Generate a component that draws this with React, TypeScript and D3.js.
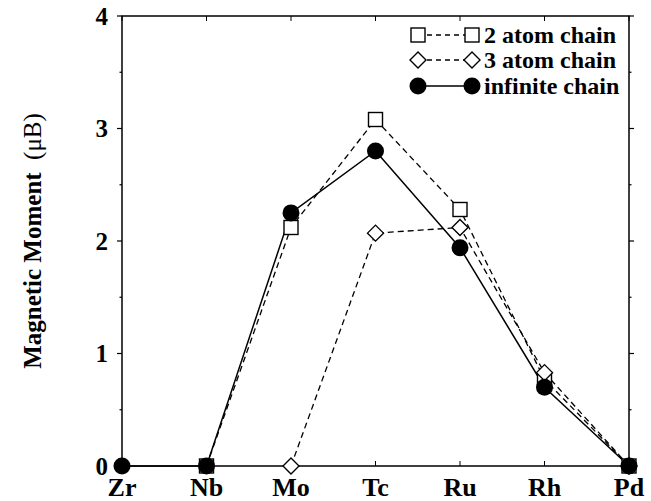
import React from 'react';
import * as d3 from 'd3';

const elements = ['Zr', 'Nb', 'Mo', 'Tc', 'Ru', 'Rh', 'Pd'];
const yTicks = [0, 1, 2, 3, 4];

// 2 atom chain, Nb..Pd
const twoAtomEl = ['Nb', 'Mo', 'Tc', 'Ru', 'Rh', 'Pd'];
const twoAtom = [0, 2.12, 3.08, 2.28, 0.77, 0];
// 3 atom chain, Mo..Pd
const threeAtomEl = ['Mo', 'Tc', 'Ru', 'Rh', 'Pd'];
const threeAtom = [0, 2.07, 2.12, 0.83, 0];
// infinite chain, Zr..Pd
const infiniteEl = ['Zr', 'Nb', 'Mo', 'Tc', 'Ru', 'Rh', 'Pd'];
const infinite = [0, 0, 2.25, 2.8, 1.94, 0.7, 0];

const legendLabels = ['2 atom chain', '3 atom chain', 'infinite chain'];

const W = 651;
const H = 501;
const m = { l: 122, r: 22, t: 16, b: 35 };
const font = '"Liberation Serif", "Times New Roman", serif';

const Square = ({ x, y }) => <rect x={x - 7} y={y - 7} width={14} height={14} fill="#fff" stroke="#000" strokeWidth={1.4} />;
const Diamond = ({ x, y }) => (
	<path d={`M${x},${y - 8}L${x + 8},${y}L${x},${y + 8}L${x - 8},${y}Z`} fill="#fff" stroke="#000" strokeWidth={1.4} />
);
const Dot = ({ x, y }) => <circle cx={x} cy={y} r={8.5} fill="#000" />;

const App = () => {
	const x = d3.scalePoint().domain(elements).range([ m.l, W - m.r ]);
	const y = d3.scaleLinear().domain([ 0, 4 ]).range([ H - m.b, m.t ]);
	const minor = d3.range(0, 4.01, 0.5);

	const line = d3.line().x((d) => x(d[0])).y((d) => y(d[1]));
	const pts2 = twoAtomEl.map((e, i) => [ e, twoAtom[i] ]);
	const pts3 = threeAtomEl.map((e, i) => [ e, threeAtom[i] ]);
	const ptsI = infiniteEl.map((e, i) => [ e, infinite[i] ]);

	const x0 = m.l, x1 = W - m.r, y0 = H - m.b, y1 = m.t;
	const lg = { x1: 418, x2: 472, tx: 484, ys: [ 35, 60, 86 ] };

	return (
		<svg width={W} height={H} style={{ position: 'absolute', left: 0, top: 0, background: '#fff' }} fontFamily={font} fontWeight="bold">
			{/* frame */}
			<rect x={x0} y={y1} width={x1 - x0} height={y0 - y1} fill="none" stroke="#000" strokeWidth={1.5} />
			{minor.map((v) => {
				const len = v % 1 === 0 ? 5 : 2.5;
				return (
					<g key={v}>
						<line x1={x0 - len} x2={x0} y1={y(v)} y2={y(v)} stroke="#000" strokeWidth={1.2} />
						<line x1={x1} x2={x1 + len} y1={y(v)} y2={y(v)} stroke="#000" strokeWidth={1.2} />
					</g>
				);
			})}
			{elements.map((e) => (
				<g key={e}>
					<line x1={x(e)} x2={x(e)} y1={y0} y2={y0 - 5} stroke="#000" strokeWidth={1} />
					<line x1={x(e)} x2={x(e)} y1={y1} y2={y1 + 5} stroke="#000" strokeWidth={1} />
					<text x={x(e)} y={496} textAnchor="middle" fontSize={26}>{e}</text>
				</g>
			))}
			{yTicks.map((t) => (
				<text key={t} x={108} y={y(t)} dy="0.35em" textAnchor="end" fontSize={25}>{t}</text>
			))}
			<text transform={`translate(41, ${(y0 + y1) / 2}) rotate(-90)`} textAnchor="middle" fontSize={25} style={{ whiteSpace: 'pre' }}>
				Magnetic Moment  <tspan fontWeight="normal">(μB)</tspan>
			</text>

			{/* series */}
			<path d={line(pts2)} fill="none" stroke="#000" strokeWidth={1.3} strokeDasharray="6,4" />
			<path d={line(pts3)} fill="none" stroke="#000" strokeWidth={1.3} strokeDasharray="6,4" />
			<path d={line(ptsI)} fill="none" stroke="#000" strokeWidth={1.5} />
			{pts2.map((d, i) => <Square key={'s' + i} x={x(d[0])} y={y(d[1])} />)}
			{pts3.map((d, i) => <Diamond key={'d' + i} x={x(d[0])} y={y(d[1])} />)}
			{ptsI.map((d, i) => <Dot key={'c' + i} x={x(d[0])} y={y(d[1])} />)}

			{/* legend */}
			{legendLabels.map((lab, i) => {
				const ly = lg.ys[i];
				return (
					<g key={lab}>
						<line x1={lg.x1} x2={lg.x2} y1={ly} y2={ly} stroke="#000" strokeWidth={1.3} strokeDasharray={i < 2 ? '5,4' : null} />
						{i === 0 && <><Square x={lg.x1} y={ly} /><Square x={lg.x2} y={ly} /></>}
						{i === 1 && <><Diamond x={lg.x1} y={ly} /><Diamond x={lg.x2} y={ly} /></>}
						{i === 2 && <><Dot x={lg.x1} y={ly} /><Dot x={lg.x2} y={ly} /></>}
						<text x={lg.tx} y={ly + 8} fontSize={24}>{lab}</text>
					</g>
				);
			})}
		</svg>
	);
};

export default App;
